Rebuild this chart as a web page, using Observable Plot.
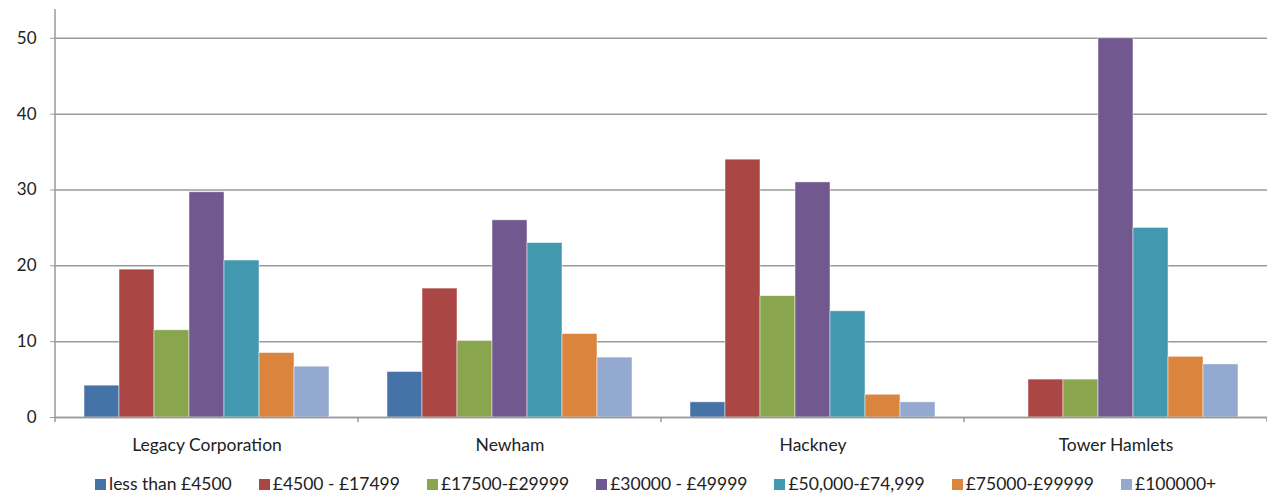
<!DOCTYPE html>
<html>
<head>
<meta charset="utf-8">
<script src="https://cdn.jsdelivr.net/npm/d3@7"></script>
<script src="https://cdn.jsdelivr.net/npm/@observablehq/plot@0.6"></script>
<style>
  body { margin: 0; background: #fff; font-family: Lato, "Open Sans", sans-serif; }
  #legend { display: flex; gap: 27px; padding-left: 95px; font-size: 17.5px; color: #222; height: 20px; line-height: 20px; align-items: center; margin-top: 14px; }
  #legend .item { display: flex; align-items: center; gap: 3px; white-space: nowrap; }
  #legend .sw { width: 11px; height: 11px; display: inline-block; }
</style>
</head>
<body>
<div id="chart"></div>
<div id="legend"></div>
<script>
const areas = ["Legacy Corporation", "Newham", "Hackney", "Tower Hamlets"];
const bands = ["less than £4500", "£4500 - £17499", "£17500-£29999", "£30000 - £49999", "£50,000-£74,999", "£75000-£99999", "£100000+"];
const colors = ["#4572A7", "#AA4643", "#89A54E", "#71588F", "#4198AF", "#DB843D", "#93A9CF"];
const legacy = [4.2, 19.5, 11.5, 29.7, 20.7, 8.5, 6.7];
const newham = [6, 17, 10.1, 26, 23, 11, 7.9];
const hackney = [2, 34, 16, 31, 14, 3, 2];
const towerHamlets = [0, 5, 5, 50, 25, 8, 7];
const yTicks = [0, 10, 20, 30, 40, 50];

const series = [legacy, newham, hackney, towerHamlets];
const data = [];
areas.forEach((a, i) => bands.forEach((b, j) => data.push({area: a, band: b, value: series[i][j]})));

const chart = Plot.plot({
  width: 1267,
  height: 460,
  marginLeft: 55,
  marginRight: 0,
  marginTop: 9,
  marginBottom: 43,
  style: {fontFamily: "Lato, 'Open Sans', sans-serif", fontSize: "17px", color: "#222", background: "#fff"},
  fx: {domain: areas, padding: 0, label: null},
  x: {domain: bands, paddingInner: 0, paddingOuter: 0.71, axis: null},
  y: {domain: [0, 53.8], label: null},
  color: {domain: bands, range: colors},
  marks: [
    Plot.gridY(yTicks, {stroke: "#9a9a9a", strokeOpacity: 1, strokeWidth: 1.5}),
    Plot.barY(data, {fx: "area", x: "band", y: "value", fill: "band", stroke: "#fff", strokeWidth: 0.8, strokeOpacity: 0.6}),
    Plot.ruleY([0], {stroke: "#9a9a9a", strokeWidth: 1.5}),
    Plot.axisY(yTicks, {tickSize: 5, tickPadding: 14, stroke: "#9a9a9a", fill: "#222", fontSize: 17, label: null}),
    Plot.axisFx({anchor: "bottom", tickSize: 0, tickPadding: 21, fontSize: 17.5, fill: "#222", label: null})
  ]
});
document.getElementById("chart").appendChild(chart);

// axis lines and category boundary ticks from the library's scales
const fx = chart.scale("fx");
const y = chart.scale("y");
const svg = d3.select(chart);
const fxScale = d3.scaleBand(fx.domain, fx.range).paddingInner(fx.paddingInner ?? 0).paddingOuter(fx.paddingOuter ?? 0);
const yScale = d3.scaleLinear(y.domain, y.range);
const y0 = yScale(0);
const left = fxScale(areas[0]);
svg.append("line").attr("x1", left).attr("x2", left).attr("y1", yScale(y.domain[1])).attr("y2", y0)
  .attr("stroke", "#9a9a9a").attr("stroke-width", 1.5);
const bounds = areas.map(a => fxScale(a)).concat([fxScale(areas[areas.length - 1]) + fxScale.bandwidth()]);
bounds.forEach(bx => {
  svg.append("line").attr("x1", bx).attr("x2", bx).attr("y1", y0).attr("y2", y0 + 5)
    .attr("stroke", "#9a9a9a").attr("stroke-width", 1.5);
});

const legend = document.getElementById("legend");
bands.forEach((b, i) => {
  const it = document.createElement("span");
  it.className = "item";
  it.innerHTML = `<span class="sw" style="background:${colors[i]}"></span><span>${b}</span>`;
  legend.appendChild(it);
});
</script>
</body>
</html>
